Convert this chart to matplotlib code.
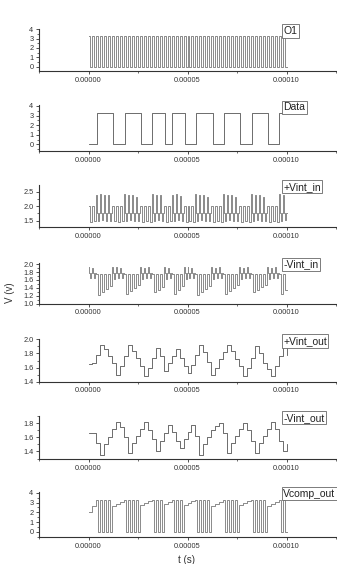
"""
Stacked transient waveforms of the sigma-delta loop (O1, Data, integrator in/out, comparator)
"""
import numpy as np
import matplotlib.pyplot as plt
from matplotlib.ticker import MultipleLocator

plt.rcParams['font.family'] = ['Liberation Sans', 'DejaVu Sans']

# ---- data (times in microseconds, voltages in V) ----
clock_period_us = 2.0
n_cycles = 50
v_high = 3.3

# Data input: starts low, toggles at each of these edges
data_edges_us = [4.4, 12.6, 18.2, 26.5, 32.2, 38.4, 42.3, 48.7,
                 54.5, 62.7, 68.3, 76.7, 82.5, 90.6, 96.3]

# +Vint_in: per clock cycle, top and bottom excursion
vip_top = [2.02, 2.00, 2.40, 2.42, 2.38, 2.40, 2.02, 2.00, 2.00, 2.42,
           2.40, 2.38, 2.30, 2.00, 2.02, 2.00, 2.42, 2.40, 2.38, 2.00,
           2.00, 2.40, 2.42, 2.36, 2.02, 2.00, 2.00, 2.42, 2.40, 2.38,
           2.30, 2.00, 2.02, 2.00, 2.42, 2.40, 2.38, 2.30, 2.00, 2.02,
           2.00, 2.42, 2.40, 2.38, 2.30, 2.00, 2.02, 2.00, 2.42, 2.40]
vip_bot = [1.45, 1.48, 1.50, 1.52, 1.48, 1.50, 1.48, 1.46, 1.48, 1.50,
           1.52, 1.48, 1.50, 1.46, 1.48, 1.47, 1.50, 1.52, 1.48, 1.46,
           1.48, 1.50, 1.52, 1.48, 1.46, 1.48, 1.47, 1.50, 1.52, 1.48,
           1.50, 1.46, 1.48, 1.47, 1.50, 1.52, 1.48, 1.50, 1.46, 1.48,
           1.47, 1.50, 1.52, 1.48, 1.50, 1.46, 1.48, 1.47, 1.50, 1.52]
vip_base = 1.78

# -Vint_in: per clock cycle, top and bottom excursion
vin_top = [1.92, 1.90, 1.76, 1.75, 1.74, 1.76, 1.92, 1.94, 1.90, 1.76,
           1.75, 1.74, 1.76, 1.92, 1.90, 1.94, 1.76, 1.75, 1.74, 1.92,
           1.90, 1.76, 1.75, 1.74, 1.92, 1.94, 1.90, 1.76, 1.75, 1.74,
           1.76, 1.92, 1.90, 1.94, 1.76, 1.75, 1.74, 1.76, 1.92, 1.90,
           1.94, 1.76, 1.75, 1.74, 1.76, 1.92, 1.90, 1.94, 1.76, 1.75]
vin_bot = [1.66, 1.64, 1.22, 1.30, 1.38, 1.45, 1.62, 1.66, 1.64, 1.25,
           1.32, 1.40, 1.46, 1.62, 1.66, 1.64, 1.28, 1.35, 1.42, 1.62,
           1.66, 1.25, 1.35, 1.44, 1.62, 1.66, 1.64, 1.22, 1.30, 1.38,
           1.45, 1.62, 1.66, 1.64, 1.25, 1.32, 1.40, 1.46, 1.62, 1.66,
           1.64, 1.28, 1.35, 1.42, 1.48, 1.62, 1.66, 1.64, 1.25, 1.35]
vin_base = 1.78

# Vcomp_out: level per cycle while the comparator is not toggling
vcomp_idle = [2.00, 2.70, 3.30, 3.30, 3.30, 3.30, 2.70, 2.90, 3.10, 3.30,
              3.30, 3.30, 3.30, 2.80, 3.00, 3.20, 3.30, 3.30, 3.30, 2.90,
              3.10, 3.30, 3.30, 3.30, 2.80, 3.00, 3.20, 3.30, 3.30, 3.30,
              3.30, 2.70, 2.90, 3.10, 3.30, 3.30, 3.30, 3.30, 2.80, 3.00,
              3.20, 3.30, 3.30, 3.30, 3.30, 2.70, 2.90, 3.10, 3.30, 3.30]

# Integrator outputs: one level per clock cycle (staircase)
vint_out_p = [1.65, 1.66, 1.78, 1.92, 1.86, 1.76, 1.66, 1.49, 1.62, 1.76,
              1.92, 1.84, 1.74, 1.62, 1.48, 1.60, 1.74, 1.88, 1.76, 1.55,
              1.66, 1.76, 1.86, 1.74, 1.62, 1.52, 1.64, 1.78, 1.92, 1.82,
              1.68, 1.50, 1.60, 1.72, 1.82, 1.92, 1.84, 1.72, 1.62, 1.48,
              1.60, 1.74, 1.90, 1.80, 1.66, 1.58, 1.48, 1.62, 1.76, 1.90]
vint_out_n = [1.66, 1.66, 1.52, 1.35, 1.50, 1.60, 1.72, 1.82, 1.74, 1.60,
              1.38, 1.52, 1.62, 1.72, 1.82, 1.70, 1.58, 1.40, 1.55, 1.66,
              1.78, 1.68, 1.55, 1.45, 1.58, 1.68, 1.78, 1.62, 1.35, 1.50,
              1.60, 1.70, 1.76, 1.80, 1.66, 1.38, 1.52, 1.62, 1.72, 1.80,
              1.70, 1.55, 1.38, 1.52, 1.62, 1.72, 1.82, 1.72, 1.55, 1.40]
vint_out_p_end = 1.78
vint_out_n_end = 1.50

panel_labels = ['O1', 'Data', '+Vint_in', '-Vint_in', '+Vint_out', '-Vint_out', 'Vcomp_out']


def data_level(t_us):
    """Data waveform value at the given times."""
    n_edges = np.searchsorted(np.array(data_edges_us), t_us, side='right')
    return np.where(n_edges % 2 == 1, v_high, 0.0)


def cycle_waveform(high_mask, on_high, on_low):
    """Build a 4-sample-per-cycle waveform from per-cycle sample tuples."""
    vals = []
    for k in range(n_cycles):
        vals.extend(on_high(k) if high_mask[k] else on_low(k))
    vals.append(vals[-1])
    return np.array(vals)


# time base: 4 sub-steps per clock cycle
t_sub = np.arange(n_cycles * 4 + 1) * clock_period_us / 4
t_cyc = np.arange(n_cycles + 1) * clock_period_us
high = data_level(t_cyc[:-1] + clock_period_us / 2) > 0

o1 = cycle_waveform(high, lambda k: [v_high, v_high, 0, 0], lambda k: [v_high, v_high, 0, 0])
vip = cycle_waveform(high,
                     lambda k: [vip_top[k], vip_base, vip_bot[k], vip_base],
                     lambda k: [vip_top[k], vip_top[k], vip_bot[k], vip_bot[k]])
vin = cycle_waveform(high,
                     lambda k: [vin_top[k], vin_top[k], vin_bot[k], vin_bot[k]],
                     lambda k: [vin_top[k], vin_base, vin_bot[k], vin_base])
vcomp = cycle_waveform(high,
                       lambda k: [v_high, v_high, 0, 0],
                       lambda k: [vcomp_idle[k]] * 4)
data_t = np.concatenate([[0.0], data_edges_us, [100.0]])
data_v = np.append(data_level(data_t[:-1]), data_level(np.array([99.9]))[0])
vop = np.append(vint_out_p, vint_out_p_end)
von = np.append(vint_out_n, vint_out_n_end)

series = [(t_sub, o1), (data_t, data_v), (t_sub, vip), (t_sub, vin),
          (t_cyc, vop), (t_cyc, von), (t_sub, vcomp)]

# layout in pixels: (top, bottom, ylim, major, minor, label fmt)
W, H = 337, 564
panels = [
    (29.3, 71.0, (-0.46, 4.0), 1, 0.5, '%d'),
    (105.5, 151.0, (-0.70, 4.05), 1, 0.5, '%d'),
    (185.0, 227.3, (1.27, 2.73), 0.5, 0.25, '%.1f'),
    (263.0, 303.5, (1.0, 2.03), 0.2, 0.1, '%.1f'),
    (339.3, 381.7, (1.4, 2.0), 0.2, 0.1, '%.1f'),
    (416.0, 459.3, (1.29, 1.90), 0.2, 0.1, '%.1f'),
    (492.0, 537.3, (-0.58, 4.1), 1, 0.5, '%d'),
]

fig = plt.figure(figsize=(W / 100, H / 100), dpi=100)
for i, ((top, bot, ylim, major, minor, fmt), (t, v), label) in enumerate(zip(panels, series, panel_labels)):
    ax = fig.add_axes([39 / W, 1 - bot / H, 297 / W, (bot - top) / H])
    dense = i in (0, 2, 3, 6)
    ax.step(t * 1e-6, v, where='post', color='#8a8a8a' if dense else '#555555',
            lw=0.7 if dense else 0.6)
    ax.set_xlim(-2.5e-5, 1.25e-4)
    ax.set_ylim(*ylim)
    for side in ['top', 'right']:
        ax.spines[side].set_visible(False)
    for side in ['left', 'bottom']:
        ax.spines[side].set_color('#333333')
        ax.spines[side].set_linewidth(0.8)
    ax.set_xticks([0, 5e-5, 1e-4])
    ax.set_xticklabels(['0.00000', '0.00005', '0.00010'])
    ax.xaxis.set_minor_locator(MultipleLocator(2.5e-5))
    ax.yaxis.set_major_locator(MultipleLocator(major))
    ax.yaxis.set_minor_locator(MultipleLocator(minor))
    ax.yaxis.set_major_formatter(plt.FormatStrFormatter(fmt))
    ax.tick_params(which='major', direction='out', length=2.5, width=0.6,
                   labelsize=5.3, colors='#333333', pad=1.5)
    ax.tick_params(which='minor', direction='out', length=1.5, width=0.5, colors='#333333')
    ax.patch.set_alpha(0)
    # signal name box in the upper right
    ax.text(0.983e-4, 0.96, label, transform=ax.get_xaxis_transform(),
            ha='left', va='center', fontsize=7.5, color='#222222',
            bbox=dict(boxstyle='square,pad=0.15', fc='white', ec='#666666', lw=0.6))

fig.text(10 / W, 1 - 293 / H, 'V (v)', rotation=90, ha='center', va='center',
         fontsize=7, color='#333333')
fig.text(187 / W, 1 - 560 / H, 't (s)', ha='center', va='center',
         fontsize=7, color='#333333')

plt.savefig('out.png', dpi=100)
plt.close()
